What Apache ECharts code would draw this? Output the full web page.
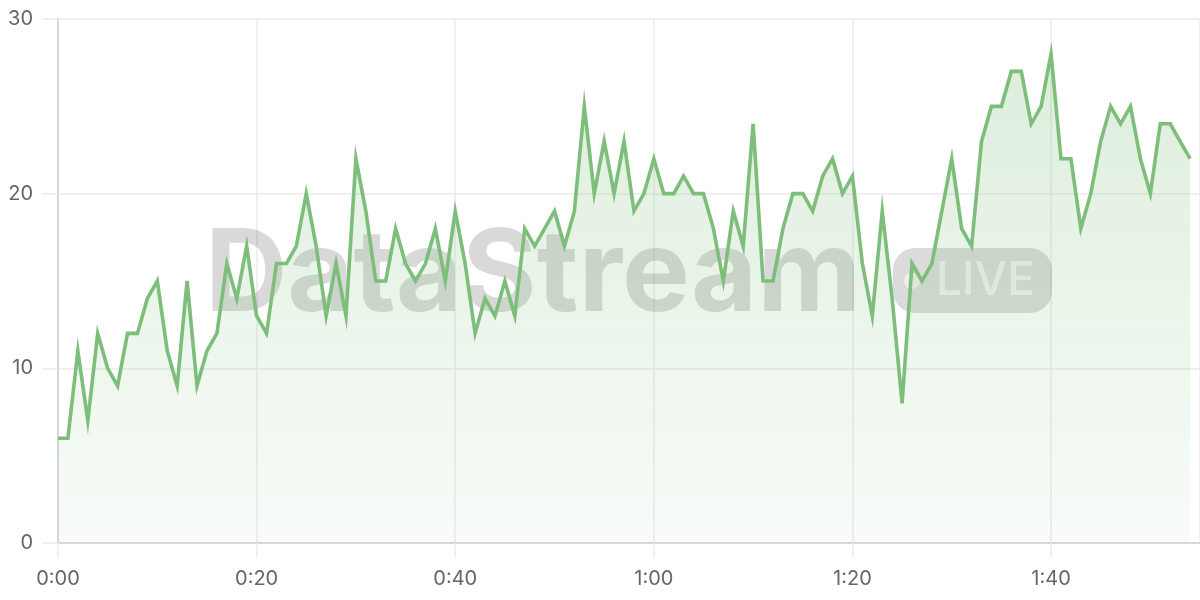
<!DOCTYPE html>
<html>
<head>
<meta charset="utf-8">
<script src="https://cdn.jsdelivr.net/npm/echarts@6/dist/echarts.min.js"></script>
<style>
html,body{margin:0;padding:0;background:#fff;}
#chart{width:1200px;height:600px;}
</style>
</head>
<body>
<div id="chart"></div>
<script>
// elapsed seconds for each sample
const seconds = [
  0,1,2,3,4,5,6,7,8,9,10,11,12,13,14,15,16,17,18,19,
  20,21,22,23,24,25,26,27,28,29,30,31,32,33,34,35,36,37,38,39,
  40,41,42,43,44,45,46,47,48,49,50,51,52,53,54,55,56,57,58,59,
  60,61,62,63,64,65,66,67,68,69,70,71,72,73,74,75,76,77,78,79,
  80,81,82,83,84,85,86,87,88,89,90,91,92,93,94,95,96,97,98,99,
  100,101,102,103,104,105,106,107,108,109,110,111,112,113,114
];
const values = [
  6,6,11,7,12,10,9,12,12,14,15,11,9,15,9,11,12,16,14,17,
  13,12,16,16,17,20,17,13,16,13,22,19,15,15,18,16,15,16,18,15,
  19,16,12,14,13,15,13,18,17,18,19,17,19,25,20,23,20,23,19,20,
  22,20,20,21,20,20,18,15,19,17,24,15,15,18,20,20,19,21,22,20,
  21,16,13,19,14,8,16,15,16,19,22,18,17,23,25,25,27,27,24,25,
  28,22,22,18,20,23,25,24,25,22,20,24,24,23,22
];
const yTicks = [0, 10, 20, 30];
const xTickStep = 20;
const xMax = 115;

function fmtTime(s) {
  const m = Math.floor(s / 60);
  const sec = s % 60;
  return m + ':' + (sec < 10 ? '0' : '') + sec;
}

const seriesData = seconds.map((s, i) => [s, values[i]]);

const chart = echarts.init(document.getElementById('chart'), null, {renderer: 'canvas'});
const labelFont = 'Inter, "Noto Sans", sans-serif';
chart.setOption({
  animation: false,
  grid: {left: 58, right: 0, top: 19, bottom: 57, containLabel: false, outerBoundsMode: 'none'},
  xAxis: {
    type: 'value',
    min: 0,
    max: xMax,
    interval: xTickStep,
    axisLine: {show: true, lineStyle: {color: '#cfcfcf', width: 1.5}},
    axisTick: {show: true, length: 15, lineStyle: {color: '#ebebeb', width: 1.5}},
    splitLine: {show: true, lineStyle: {color: '#ebebeb', width: 1.5}},
    axisLabel: {
      formatter: v => fmtTime(v),
      color: '#666',
      fontSize: 20,
      fontFamily: labelFont,
      margin: 26,
      showMaxLabel: false,
      hideOverlap: false
    }
  },
  yAxis: {
    type: 'value',
    min: yTicks[0],
    max: yTicks[yTicks.length - 1],
    interval: 10,
    axisLine: {show: true, lineStyle: {color: '#cfcfcf', width: 1.5}},
    axisTick: {show: true, length: 16, lineStyle: {color: '#ebebeb', width: 1.5}},
    splitLine: {show: true, lineStyle: {color: '#ebebeb', width: 1.5}},
    axisLabel: {
      color: '#666',
      fontSize: 20,
      fontFamily: labelFont,
      margin: 25
    }
  },
  graphic: [
    {
      type: 'text',
      z: 1,
      silent: true,
      x: 205, y: 334,
      style: {
        text: 'DataStream',
        font: 'bold 114px Inter, "Noto Sans", sans-serif',
        fill: 'rgba(0,0,0,0.15)',
        textVerticalAlign: 'bottom',
        verticalAlign: 'bottom'
      }
    },
    {
      type: 'rect',
      z: 1,
      silent: true,
      shape: {x: 893, y: 248, width: 159, height: 65, r: 22},
      style: {fill: 'rgba(0,0,0,0.14)'}
    },
    {
      type: 'circle',
      z: 1,
      silent: true,
      shape: {cx: 912, cy: 281, r: 8},
      style: {fill: 'rgba(255,255,255,0.55)'}
    },
    {
      type: 'text',
      z: 1,
      silent: true,
      x: 936, y: 281,
      style: {
        text: 'LIVE',
        font: '500 46px Inter, "Noto Sans", sans-serif',
        fill: 'rgba(255,255,255,0.6)',
        textVerticalAlign: 'middle',
        verticalAlign: 'middle'
      }
    }
  ],
  series: [{
    type: 'line',
    data: seriesData,
    showSymbol: false,
    symbol: 'none',
    z: 3,
    lineStyle: {color: '#7dbe7a', width: 3.6, join: 'miter'},
    areaStyle: {
      color: new echarts.graphic.LinearGradient(0, 0, 0, 1, [
        {offset: 0, color: 'rgba(125,190,122,0.38)'},
        {offset: 1, color: 'rgba(125,190,122,0.07)'}
      ])
    }
  }]
});
</script>
</body>
</html>
